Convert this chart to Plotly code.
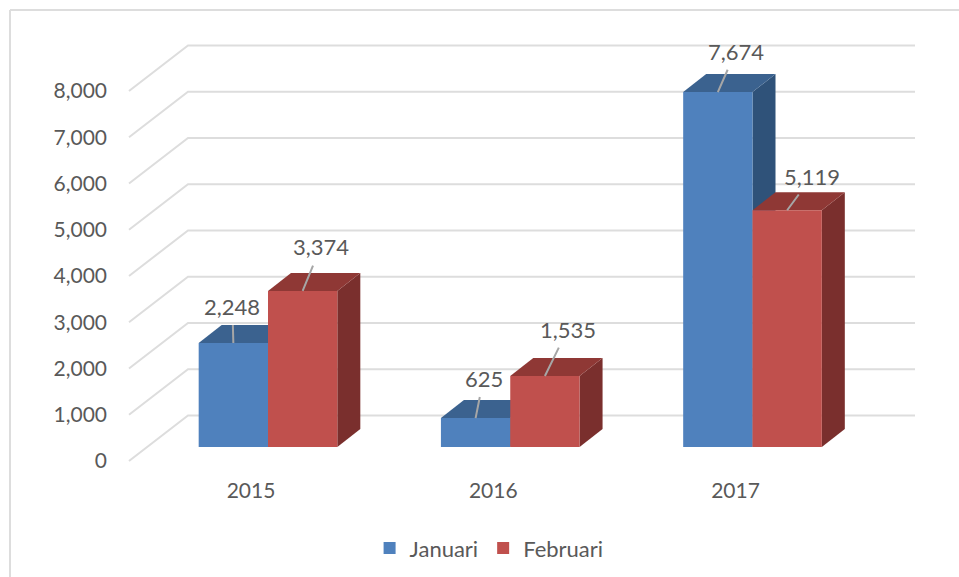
import plotly.graph_objects as go

years = ["2015", "2016", "2017"]
januari = [2248, 625, 7674]
februari = [3374, 1535, 5119]
y_ticks = [0, 1000, 2000, 3000, 4000, 5000, 6000, 7000, 8000]

W, H = 959, 577
L, T, B = 112, 20, 470
PX_PER_VAL = 0.04625
PX_PER_CAT = 242.25
X0_PX, Y0_PX = 268, 447


def px_x(p):
    return (p - X0_PX) / PX_PER_CAT


def px_dy(p):
    return p / PX_PER_VAL


BLUE, BLUE_TOP, BLUE_SIDE = "#4F81BD", "#3B628F", "#2F5279"
RED, RED_TOP, RED_SIDE = "#C0504D", "#8F3835", "#7A2F2D"
GRID = "#DDDDDD"
TEXT = "#595959"
FONT = "Lato, Carlito, sans-serif"

GAP = 0.4277
BAR_W = (1 - GAP) / 2
DX, DY = 23 / PX_PER_CAT, px_dy(18)
WALL_FRONT_X, WALL_BACK_X, WALL_END_X = px_x(129), px_x(188), px_x(915)
WALL_FRONT_Y, WALL_BACK_Y = px_dy(-14), px_dy(31.5)

shapes = []
for t in y_ticks:
    shapes.append(dict(
        type="path", xref="x", yref="y", layer="below",
        path=f"M{WALL_FRONT_X},{t + WALL_FRONT_Y} L{WALL_BACK_X},{t + WALL_BACK_Y} L{WALL_END_X},{t + WALL_BACK_Y}",
        line=dict(color=GRID, width=2),
    ))


def faces(x_left, v, top_col, side_col):
    x_right = x_left + BAR_W
    shapes.append(dict(
        type="path", xref="x", yref="y", layer="below", line=dict(width=0), fillcolor=side_col,
        path=f"M{x_right},0 L{x_right + DX},{DY} L{x_right + DX},{v + DY} L{x_right},{v} Z",
    ))
    shapes.append(dict(
        type="path", xref="x", yref="y", layer="below", line=dict(width=0), fillcolor=top_col,
        path=f"M{x_left},{v} L{x_left + DX},{v + DY} L{x_right + DX},{v + DY} L{x_right},{v} Z",
    ))


for i in range(len(years)):
    faces(i - BAR_W, januari[i], BLUE_TOP, BLUE_SIDE)
    faces(i, februari[i], RED_TOP, RED_SIDE)

fig = go.Figure()
xs = list(range(len(years)))
fig.add_bar(x=xs, y=januari, name="Januari", marker=dict(color=BLUE, line=dict(width=0)))
fig.add_bar(x=xs, y=februari, name="Februari", marker=dict(color=RED, line=dict(width=0)))

leaders = [
    (0 - BAR_W / 2, januari[0], -1, -37),
    (0 + BAR_W / 2, februari[0], 18, -44),
    (1 - BAR_W / 2, januari[1], 8, -40),
    (1 + BAR_W / 2, februari[1], 23, -47),
    (2 - BAR_W / 2, januari[2], 18, -41),
    (2 + BAR_W / 2, februari[2], 25, -34),
]
annotations = [
    dict(
        x=x, y=v, xref="x", yref="y", ax=ax, ay=ay, axref="pixel", ayref="pixel",
        text=f"{v:,}", showarrow=True, arrowhead=0, arrowwidth=2, arrowcolor="#A6A6A6",
        startstandoff=4, font=dict(family=FONT, size=22, color=TEXT),
    )
    for x, v, ax, ay in leaders
]

border = [
    dict(type="line", xref="paper", yref="paper", layer="below",
         x0=(10 - L) / (W - L), x1=1, y0=(B - 10) / (B - T), y1=(B - 10) / (B - T),
         line=dict(color=GRID, width=2)),
    dict(type="line", xref="paper", yref="paper", layer="below",
         x0=(10 - L) / (W - L), x1=(10 - L) / (W - L), y0=(B - 10) / (B - T), y1=(B - H) / (B - T),
         line=dict(color=GRID, width=2)),
]

fig.update_layout(
    width=W, height=H, margin=dict(l=L, r=0, t=T, b=H - B),
    paper_bgcolor="white", plot_bgcolor="rgba(0,0,0,0)",
    barmode="group", bargap=GAP, bargroupgap=0,
    shapes=border + shapes, annotations=annotations,
    font=dict(family=FONT, color=TEXT, size=20),
    xaxis=dict(
        range=[px_x(L), px_x(W)], tickmode="array",
        tickvals=[i + px_x(251) for i in xs], ticktext=years,
        showgrid=False, zeroline=False, showline=False, ticks="",
        tickfont=dict(family=FONT, size=21, color=TEXT), ticklabelstandoff=6,
    ),
    yaxis=dict(
        range=[px_dy(Y0_PX - B), px_dy(Y0_PX - T)], tickmode="array",
        tickvals=[t + WALL_FRONT_Y for t in y_ticks], ticktext=[f"{t:,}" for t in y_ticks],
        showgrid=False, zeroline=False, showline=False, ticks="",
        tickfont=dict(family=FONT, size=21, color=TEXT), ticklabelstandoff=4,
    ),
    legend=dict(
        orientation="h", x=0.51, xanchor="center", xref="container",
        y=0.05, yanchor="middle", yref="container", traceorder="normal",
        font=dict(family=FONT, size=22, color=TEXT), itemwidth=30,
    ),
)
fig.write_html("out.html", post_script="document.body.style.margin='0';", config={"displayModeBar": False})
